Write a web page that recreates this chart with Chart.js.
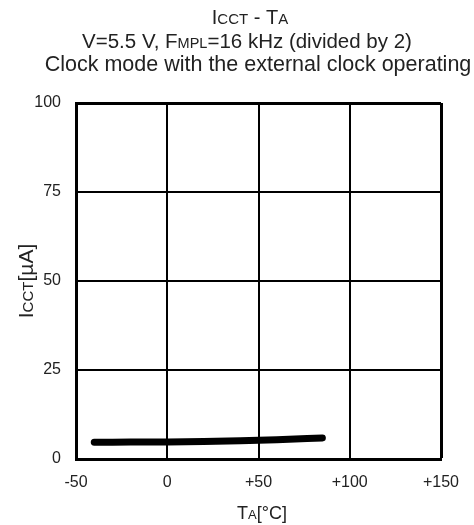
<!DOCTYPE html>
<html lang="en">

<head>
    <meta charset="UTF-8">
    <title>ICCT - TA</title>
    <style>
        body { margin: 0; background: #fff; }
    </style>
</head>

<body>
    <canvas id="myChart" width="474" height="525"></canvas>
    <script src="https://cdn.jsdelivr.net/npm/chart.js"></script>
    <script>
        // temperature (°C) and supply current (µA)
        const temps = [-40, -20, 0, 20, 40, 60, 85];
        const iccValues = [4.7, 4.75, 4.8, 4.9, 5.1, 5.4, 5.9];
        const xTicks = [-50, 0, 50, 100, 150];
        const yTicks = [0, 25, 50, 75, 100];

        const FONT = '"Liberation Sans", Arial, Helvetica, sans-serif';
        const ctx = document.getElementById('myChart');

        // draws text made of pieces with different sizes (the small-cap subscripts)
        function drawPieces(c, pieces, x, y, align) {
            let total = 0;
            pieces.forEach(p => {
                c.font = p[1] + 'px ' + FONT;
                total += c.measureText(p[0]).width;
            });
            let start = align === 'center' ? x - total / 2 : x;
            c.textAlign = 'left';
            c.textBaseline = 'alphabetic';
            pieces.forEach(p => {
                c.font = p[1] + 'px ' + FONT;
                c.fillText(p[0], start, y);
                start += c.measureText(p[0]).width;
            });
        }

        const textPlugin = {
            id: 'texts',
            afterDraw(chart) {
                const c = chart.ctx;
                c.save();
                c.fillStyle = '#222';
                drawPieces(c, [['I', 20], ['CCT', 15], [' - T', 20], ['A', 15]], 250, 24, 'center');
                drawPieces(c, [['V=5.5 V, F', 20.5], ['MPL', 14.5], ['=16 kHz (divided by 2)', 20.5]], 247, 47.5, 'center');
                drawPieces(c, [['Clock mode with the external clock operating', 21.5]], 258, 71, 'center');
                drawPieces(c, [['T', 18], ['A', 13], ['[°C]', 18]], 262, 519, 'center');
                c.translate(33, 281);
                c.rotate(-Math.PI / 2);
                drawPieces(c, [['I', 21], ['CCT', 15], ['[µA]', 21]], 0, 0, 'center');
                c.restore();
            }
        };

        new Chart(ctx, {
            type: 'line',
            data: {
                datasets: [{
                    data: temps.map((t, i) => ({ x: t, y: iccValues[i] })),
                    borderColor: '#000',
                    borderWidth: 7,
                    borderCapStyle: 'round',
                    cubicInterpolationMode: 'monotone',
                    pointRadius: 0,
                    fill: false
                }]
            },
            options: {
                responsive: false,
                animation: false,
                layout: { padding: { top: 103, right: 33, left: 0, bottom: 0 } },
                scales: {
                    x: {
                        type: 'linear',
                        min: -50,
                        max: 150,
                        afterBuildTicks: s => { s.ticks = xTicks.map(v => ({ value: v })); },
                        afterFit: s => { s.height = 66; },
                        ticks: {
                            color: '#222',
                            padding: 14,
                            font: { family: FONT, size: 16 },
                            callback: v => v > 0 ? '+' + v : String(v)
                        },
                        grid: {
                            color: '#000',
                            lineWidth: c => c.tick && c.tick.value === 150 ? 3 : 2,
                            drawTicks: false
                        },
                        border: { color: '#000', width: 3 }
                    },
                    y: {
                        min: 0,
                        max: 100,
                        afterBuildTicks: s => { s.ticks = yTicks.map(v => ({ value: v })); },
                        afterFit: s => { s.width = 76; },
                        ticks: {
                            color: '#222',
                            padding: 15,
                            font: { family: FONT, size: 16 }
                        },
                        grid: {
                            color: '#000',
                            lineWidth: c => c.tick && c.tick.value === 100 ? 3 : 2,
                            drawTicks: false
                        },
                        border: { color: '#000', width: 3 }
                    }
                },
                plugins: {
                    legend: { display: false },
                    tooltip: { enabled: false }
                }
            },
            plugins: [textPlugin]
        });
    </script>
</body>

</html>
